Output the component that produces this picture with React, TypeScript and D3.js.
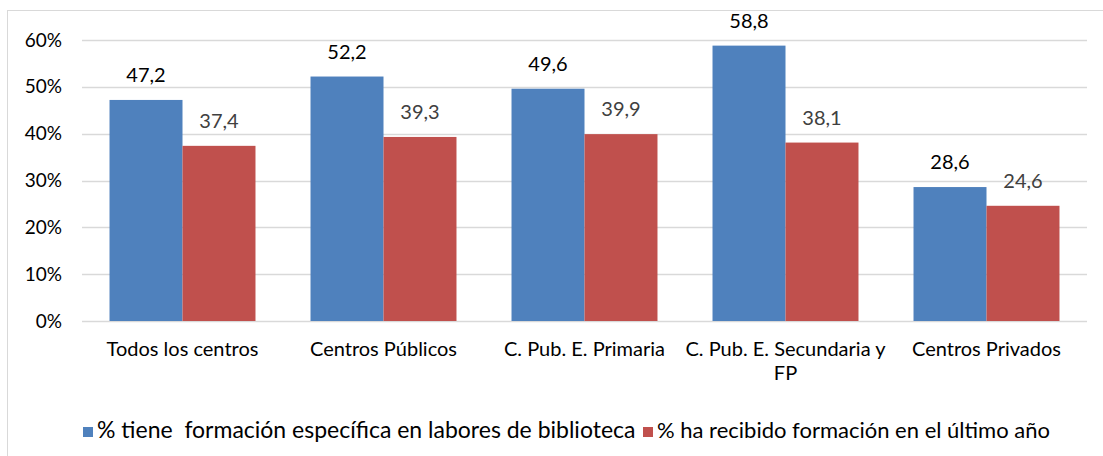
import { useEffect, useRef } from 'react';
import * as d3 from 'd3';

const categories = [
  ['Todos los centros'],
  ['Centros Públicos'],
  ['C. Pub. E. Primaria'],
  ['C. Pub. E. Secundaria y', 'FP'],
  ['Centros Privados'],
];
const seriesNames = [
  '% tiene  formación específica en labores de biblioteca',
  '% ha recibido formación en el último año',
];
const formacionEspecifica = [47.2, 52.2, 49.6, 58.8, 28.6];
const formacionUltimoAno = [37.4, 39.3, 39.9, 38.1, 24.6];
const yTicks = [0, 10, 20, 30, 40, 50, 60];

const colors = ['#4f81bd', '#c0504d'];
const labelColors = ['#000000', '#404040'];
const font = 'Lato, "Open Sans", sans-serif';

export default function App() {
  const svgRef = useRef<SVGSVGElement>(null);

  useEffect(() => {
    if (!svgRef.current) return;
    const svg = d3.select(svgRef.current);
    svg.selectAll('*').remove();

    const width = 1103;
    const height = 456;
    const margin = { top: 40, right: 16, bottom: 135, left: 82 };

    // chart border
    svg
      .append('rect')
      .attr('x', 7.5)
      .attr('y', 10.5)
      .attr('width', width)
      .attr('height', height)
      .attr('fill', 'white')
      .attr('stroke', '#d9d9d9')
      .attr('stroke-width', 1);

    const x = d3
      .scaleBand()
      .domain(categories.map((_, i) => String(i)))
      .range([margin.left, width - margin.right]);

    const y = d3
      .scaleLinear()
      .domain([0, 60])
      .range([height - margin.bottom, margin.top]);

    const inner = d3
      .scaleBand()
      .domain(['0', '1'])
      .range([0, x.bandwidth()])
      .paddingOuter(0.377)
      .paddingInner(0);

    // gridlines
    svg
      .append('g')
      .selectAll('line')
      .data(yTicks)
      .enter()
      .append('line')
      .attr('x1', margin.left)
      .attr('x2', width - margin.right)
      .attr('y1', (d) => Math.round(y(d)) + 0.5)
      .attr('y2', (d) => Math.round(y(d)) + 0.5)
      .attr('stroke', '#d9d9d9')
      .attr('stroke-width', 1.5);

    // y labels
    svg
      .append('g')
      .selectAll('text')
      .data(yTicks)
      .enter()
      .append('text')
      .attr('x', 62)
      .attr('y', (d) => y(d))
      .attr('dy', '0.35em')
      .attr('text-anchor', 'end')
      .style('font-family', font)
      .style('font-size', '19px')
      .style('fill', '#000')
      .text((d) => `${d}%`);

    const series = [formacionEspecifica, formacionUltimoAno];

    series.forEach((vals, s) => {
      const g = svg.append('g');
      g.selectAll('rect')
        .data(vals)
        .enter()
        .append('rect')
        .attr('x', (_, i) => (x(String(i)) || 0) + (inner(String(s)) || 0))
        .attr('y', (d) => y(d))
        .attr('width', inner.bandwidth())
        .attr('height', (d) => y(0) - y(d))
        .attr('fill', colors[s]);

      g.selectAll('text')
        .data(vals)
        .enter()
        .append('text')
        .attr('x', (_, i) => (x(String(i)) || 0) + (inner(String(s)) || 0) + inner.bandwidth() / 2)
        .attr('y', (d) => y(d) - 18)
        .attr('text-anchor', 'middle')
        .style('font-family', font)
        .style('font-size', '20px')
        .style('fill', labelColors[s])
        .text((d) => d.toFixed(1).replace('.', ','));
    });

    // x labels
    const xl = svg
      .append('g')
      .selectAll('text')
      .data(categories)
      .enter()
      .append('text')
      .attr('x', (_, i) => (x(String(i)) || 0) + x.bandwidth() / 2)
      .attr('y', 356)
      .attr('text-anchor', 'middle')
      .style('font-family', font)
      .style('font-size', '20px')
      .style('fill', '#000');
    xl.selectAll('tspan')
      .data((d) => d)
      .enter()
      .append('tspan')
      .attr('x', function () {
        return (this.parentNode as SVGTextElement).getAttribute('x');
      })
      .attr('dy', (_, j) => (j === 0 ? 0 : 24))
      .text((d) => d);

    // legend
    const legend = svg.append('g');
    const lx = [83, 643];
    const lsize = ['23px', '22px'];
    seriesNames.forEach((name, s) => {
      legend
        .append('rect')
        .attr('x', lx[s])
        .attr('y', 427)
        .attr('width', 10)
        .attr('height', 10)
        .attr('fill', colors[s]);
      legend
        .append('text')
        .attr('x', lx[s] + 14)
        .attr('y', 438)
        .style('font-family', font)
        .style('font-size', lsize[s])
        .style('fill', '#000')
        .style('white-space', 'pre')
        .attr('xml:space', 'preserve')
        .text(name);
    });
  }, []);

  return (
    <svg
      ref={svgRef}
      width={1103}
      height={456}
      style={{ position: 'absolute', left: 0, top: 0, display: 'block' }}
    />
  );
}
